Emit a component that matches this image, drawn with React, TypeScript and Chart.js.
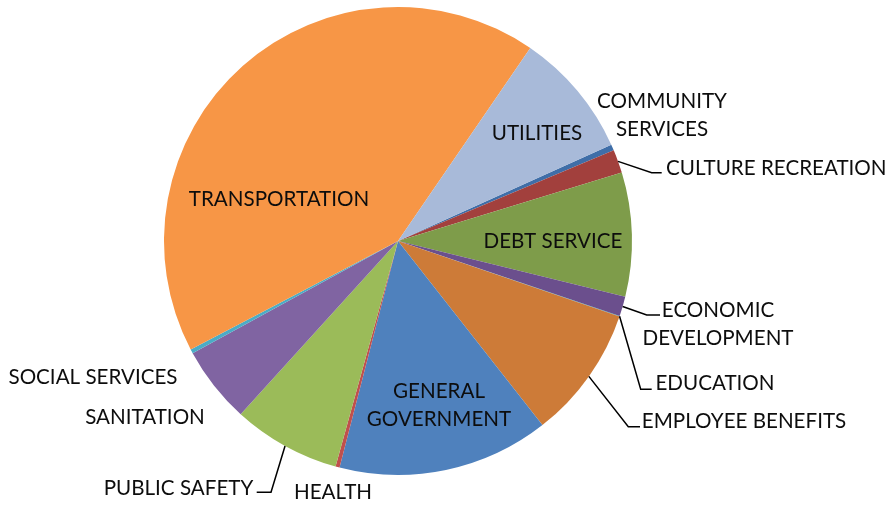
import { useEffect, useRef } from "react";
import { Chart, ArcElement, PieController } from "chart.js";

Chart.register(ArcElement, PieController);

// Categories (alphabetical, as in the source)
const categories = [
  "COMMUNITY SERVICES",
  "CULTURE RECREATION",
  "DEBT SERVICE",
  "ECONOMIC DEVELOPMENT",
  "EDUCATION",
  "EMPLOYEE BENEFITS",
  "GENERAL GOVERNMENT",
  "HEALTH",
  "PUBLIC SAFETY",
  "SANITATION",
  "SOCIAL SERVICES",
  "TRANSPORTATION",
  "UTILITIES",
];

// Share of total (%)
const shares = [0.42, 1.61, 8.56, 1.36, 0.03, 9.19, 14.61, 0.28, 7.44, 5.31, 0.28, 42.25, 8.69];

// Label text split into lines
const labelLines = [
  ["COMMUNITY", "SERVICES"],
  ["CULTURE RECREATION"],
  ["DEBT SERVICE"],
  ["ECONOMIC", "DEVELOPMENT"],
  ["EDUCATION"],
  ["EMPLOYEE BENEFITS"],
  ["GENERAL", "GOVERNMENT"],
  ["HEALTH"],
  ["PUBLIC SAFETY"],
  ["SANITATION"],
  ["SOCIAL SERVICES"],
  ["TRANSPORTATION"],
  ["UTILITIES"],
];

const colors = [
  "#3F6EA8",
  "#A2403D",
  "#7E9C4A",
  "#6B4F8D",
  "#3A8FA6",
  "#CD7B38",
  "#4F81BD",
  "#C0504D",
  "#9BBB59",
  "#8064A2",
  "#4BACC6",
  "#F79646",
  "#A8BAD9",
];

// Label layout: text centre x, first-line centre y, and optional leader elbow/end
type Place = { x: number; y: number; align?: CanvasTextAlign; leader?: [number, number, number, number] };
const places: Place[] = [
  { x: 662, y: 101 },
  { x: 666, y: 168, align: "left", leader: [651.7, 172.7, 661.7, 172.7] },
  { x: 553, y: 241 },
  { x: 718, y: 310, leader: [646.7, 315, 660, 315] },
  { x: 715, y: 383, leader: [640.7, 389.3, 651.7, 389.3] },
  { x: 744, y: 421, leader: [628.3, 426.7, 640, 426.7] },
  { x: 439, y: 391 },
  { x: 333, y: 492 },
  { x: 178.5, y: 488, leader: [271, 492.3, 256.7, 492.3] },
  { x: 145, y: 417 },
  { x: 93, y: 377 },
  { x: 279, y: 199 },
  { x: 537, y: 133 },
];

const FONT_SIZE = 20.6;
const LINE_GAP = 28;

const labelPlugin = {
  id: "pieLabels",
  afterDraw(chart: any) {
    const ctx = chart.ctx as CanvasRenderingContext2D;
    const meta = chart.getDatasetMeta(0);
    ctx.save();
    ctx.font = `${FONT_SIZE}px Lato`;
    ctx.fillStyle = "#0d0d0d";
    ctx.textBaseline = "middle";
    meta.data.forEach((arc: any, i: number) => {
      const p = places[i];
      if (p.leader) {
        const mid = (arc.startAngle + arc.endAngle) / 2;
        const sx = arc.x + Math.cos(mid) * arc.outerRadius;
        const sy = arc.y + Math.sin(mid) * arc.outerRadius;
        ctx.beginPath();
        ctx.strokeStyle = "#000";
        ctx.lineWidth = 1.5;
        ctx.moveTo(sx, sy);
        ctx.lineTo(p.leader[0], p.leader[1]);
        ctx.lineTo(p.leader[2], p.leader[3]);
        ctx.stroke();
      }
      ctx.textAlign = p.align || "center";
      labelLines[i].forEach((line, k) => {
        ctx.fillText(line, p.x, p.y + k * LINE_GAP);
      });
    });
    ctx.restore();
  },
};

export default function App() {
  const ref = useRef<HTMLCanvasElement>(null);
  useEffect(() => {
    if (!ref.current) return;
    const chart = new Chart(ref.current, {
      type: "pie",
      data: {
        labels: categories,
        datasets: [
          {
            data: shares,
            backgroundColor: colors,
            borderWidth: 0,
          },
        ],
      },
      options: {
        responsive: false,
        animation: false,
        rotation: 65.7,
        layout: { padding: { left: 164, right: 257, top: 7, bottom: 31 } },
        plugins: { legend: { display: false }, tooltip: { enabled: false } },
      },
      plugins: [labelPlugin],
    });
    return () => chart.destroy();
  }, []);
  return (
    <div style={{ position: "absolute", left: 0, top: 0, width: 889, height: 506, background: "#fff" }}>
      <canvas ref={ref} width={889} height={506} />
    </div>
  );
}
